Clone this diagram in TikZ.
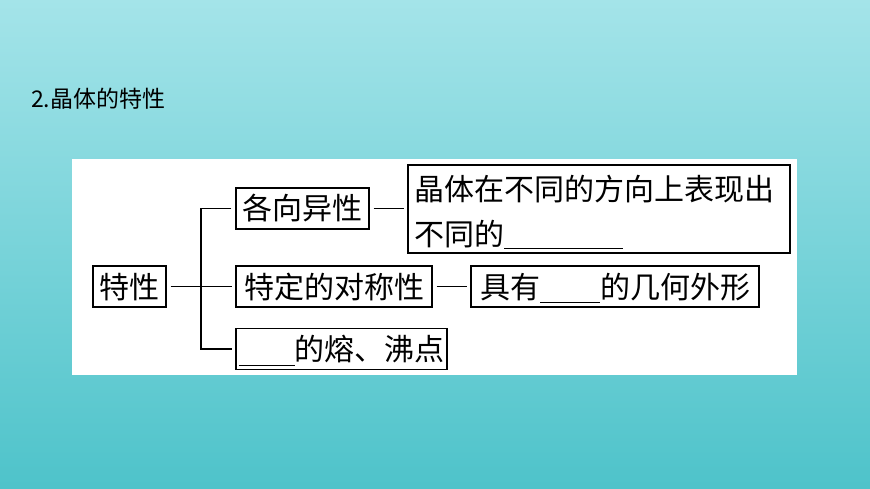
\documentclass[tikz,border=0pt]{standalone}
\usepackage{fontspec}
\setmainfont{Noto Sans CJK SC}
\usetikzlibrary{positioning, calc}
\definecolor{ink}{HTML}{000000}
\definecolor{skytop}{HTML}{A4E4E9}
\definecolor{skybot}{HTML}{4EC3CA}
\tikzset{
  %
  frame/.style={
    draw=ink, line width=1.2pt, fill=white, text=ink,
    font=\fontsize{30}{45}\selectfont,
  },
  box/.style={frame, inner sep=0pt, text height=26pt, text depth=3pt,
              minimum height=41pt},
  notebox/.style={frame, text width=370pt, align=left, inner xsep=6pt,
                  inner ysep=0pt, minimum height=88pt},
  %
  link/.style={draw=ink, line width=1.2pt, shorten <=4pt, shorten >=3pt},
  title/.style={font=\fontsize{23}{23}\selectfont, text=ink, inner sep=0pt},
}
\newcommand{\blank}[2][-5pt]{\rule[#1]{#2}{1pt}}

\begin{document}
\begin{tikzpicture}[x=1pt, y=-1pt]

% ------------------------------------------------------------- background
\useasboundingbox (0,0) rectangle (870,489);
\shade[top color=skytop, bottom color=skybot] (0,0) rectangle (870,489);
\fill[white] (72,159) rectangle (797,375);

\node[title, anchor=west] (head) at (31,99) {2.晶体的特性};

% ------------------------------------------------------------------ boxes
\node[box, minimum width=73pt]  (trait) at (129.5,286.5) {特性};
\node[box, minimum width=133pt] (aniso) at (302.5,208.5) {各向异性};
\node[box, minimum width=196pt] (symm)  at (334,286.5)   {特定的对称性};
\node[box, minimum width=211pt] (melt)  at (341.5,349)   {\blank{56pt}的熔、沸点};

\node[notebox] (desc) at (599,209)
  {\rule{0pt}{32pt}晶体在不同的方向上表现出\\不同的\blank[-3pt]{119pt}};
\node[box, minimum width=288pt] (shape) at (615,286.5)
  {具有\blank{60pt}的几何外形};

% ------------------------------------------------------------- connectors
\coordinate (fork) at (201,286.5);
\draw[link] (trait) -- (symm);
\draw[link] (aniso.west) -| (fork) |- (melt.west);
\draw[link] (aniso.east) -- (aniso.east -| desc.west);
\draw[link] (symm) -- (shape);

\end{tikzpicture}
\end{document}
